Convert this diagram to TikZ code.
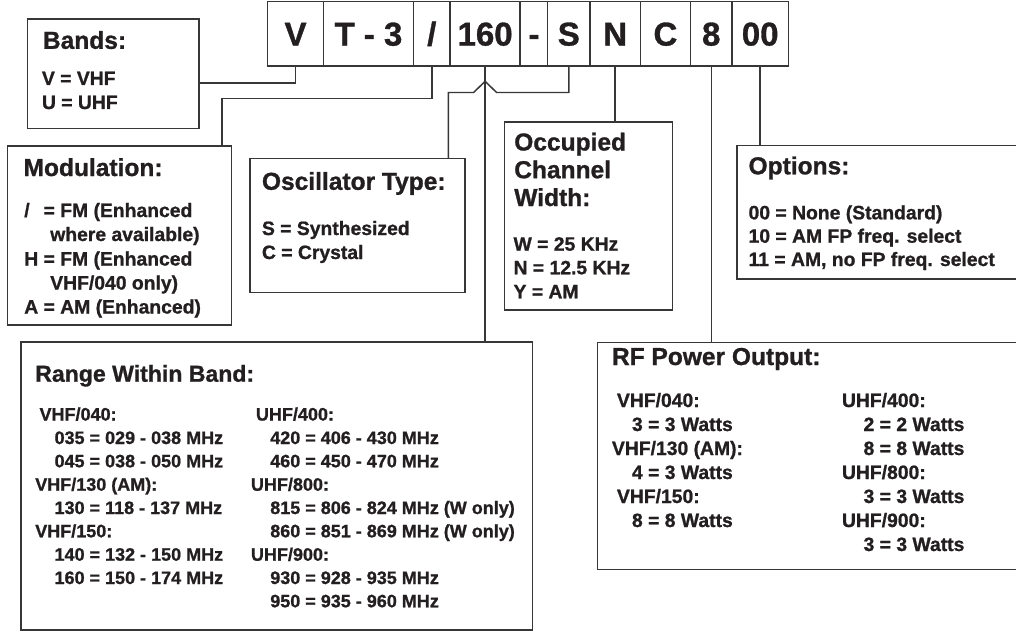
\documentclass[tikz,border=0pt]{standalone}
\usepackage{fontspec}
\setmainfont{Liberation Sans}[BoldFeatures={FakeBold=1}]
\definecolor{tc}{RGB}{35,31,32}
\definecolor{lc}{RGB}{55,55,55}
\begin{document}
\begin{tikzpicture}[x=0.75pt,y=-0.75pt,
  box/.style={draw=lc, line width=1.1pt, inner sep=0pt, outer sep=0pt, anchor=north west},
  cell/.style={draw=lc, line width=1.1pt, inner sep=0pt, outer sep=0pt, anchor=north west, minimum height=48.08pt, text height=17.7pt, text depth=0pt, font=\fontsize{24.75}{30}\selectfont\bfseries, text=tc},
  ttl/.style={anchor=base west, inner sep=0pt, font=\fontsize{18.4}{22}\selectfont\bfseries, text=tc},
  rttl/.style={anchor=base west, inner sep=0pt, font=\fontsize{17.3}{21}\selectfont\bfseries, text=tc},
  bdy/.style={anchor=base west, inner sep=0pt, font=\fontsize{14.5}{18}\selectfont\bfseries, text=tc},
  rbdy/.style={anchor=base west, inner sep=0pt, font=\fontsize{13.5}{17}\selectfont\bfseries, text=tc},
  conn/.style={draw=lc, line width=1.1pt}]
\useasboundingbox (0,0) rectangle (1016,631);
\clip (0,0) rectangle (1016,631);
\fill[white] (0,0) rectangle (1016,631);

% top code cells
\node[cell, minimum width=41.78pt] (cV) at (267.7,1.7) {V};
\node[cell, minimum width=67.58pt] (cT) at (cV.north east) {T - 3};
\node[cell, minimum width=27.38pt] (cSl) at (cT.north east) {/};
\node[cell, minimum width=52.65pt] (c160) at (cSl.north east) {160};
\node[cell, minimum width=20.63pt] (cD) at (c160.north east) {-};
\node[cell, minimum width=31.58pt] (cS) at (cD.north east) {S};
\node[cell, minimum width=37.95pt] (cN) at (cS.north east) {N};
\node[cell, minimum width=37.5pt] (cC) at (cN.north east) {C};
\node[cell, minimum width=31.2pt] (c8) at (cC.north east) {8};
\node[cell, minimum width=42.23pt] (c00) at (c8.north east) {00};

% boxes
\node[box, minimum width=128.8pt, minimum height=82pt] (bands) at (27.3,19) {};
\node[box, minimum width=168.3pt, minimum height=134.25pt] (modu) at (7.3,146) {};
\node[box, minimum width=161.25pt, minimum height=100.8pt] (osc) at (250,158.3) {};
\node[box, minimum width=126pt, minimum height=141pt] (occ) at (504.7,122) {};
\node[box, minimum width=217.5pt, minimum height=100pt] (opt) at (737,145.7) {};
\node[box, minimum width=383.5pt, minimum height=216pt] (range) at (21,342) {};
\node[box, minimum width=322.5pt, minimum height=170.5pt] (rf) at (597.3,342.3) {};

% connectors
\coordinate (jV) at (0,83);
\draw[conn] (cV.south) |- (bands.east |- jV);
\coordinate (jM) at (222,98.5);
\draw[conn] (cSl.south) |- (jM) -- (jM |- modu.north);
\draw[conn] (c160.south) -- (c160.south |- range.north);
\coordinate (apR) at (496.6,92.5);
\coordinate (apex) at (485.1,81.3);
\coordinate (apL) at (473.6,92.5);
\coordinate (jO) at (448.3,92.5);
\draw[conn] (cS.south) |- (apR) -- (apex) -- (apL) -- (jO) -- (jO |- osc.north);
\draw[conn] (cN.south) -- (cN.south |- occ.north);
\draw[conn] (c8.south) -- (c8.south |- rf.north);
\draw[conn] (c00.south) -- (c00.south |- opt.north);

% Bands
\node[ttl] (tb) at (42.7,48.8) {Bands:};
\node[bdy] (b1) at (41.7,85) {V = VHF};
\node[bdy] (b2) at (41.7,109) {U = UHF};

% Modulation
\node[ttl] (tm) at (23.3,176) {Modulation:};
\node[bdy] (m1) at (24,217) {\rlap{/}\phantom{H} = FM (Enhanced};
\node[bdy] (m2) at (50,241) {where available)};
\node[bdy] (m3) at (24,265.5) {H = FM (Enhanced};
\node[bdy] (m4) at (50,289.5) {VHF/040 only)};
\node[bdy] (m5) at (24,313.5) {A = AM (Enhanced)};

% Oscillator
\node[ttl] (to) at (261.7,189.8) {Oscillator Type:};
\node[bdy] (o1) at (261.7,235) {S = Synthesized};
\node[bdy] (o2) at (261.7,259) {C = Crystal};

% Occupied
\node[ttl] (tc1) at (514,150.5) {Occupied};
\node[ttl] (tc2) at (514,178.2) {Channel};
\node[ttl] (tc3) at (514,206) {Width:};
\node[bdy] (w1) at (513.3,250.7) {W = 25 KHz};
\node[bdy] (w2) at (513.3,274.3) {N = 12.5 KHz};
\node[bdy] (w3) at (513.3,298.3) {Y = AM};

% Options
\node[ttl] (tp) at (748.3,174.3) {Options:};
\node[bdy] (p1) at (748.3,219.3) {00 = None (Standard)};
\node[bdy] (p2) at (748.3,242.7) {10 = AM FP freq. select};
\node[bdy] (p3) at (748.3,266) {11 = AM, no FP freq. select};

% Range
\node[rttl] (tr) at (35,381.7) {Range Within Band:};
\node[rbdy] (r1) at (39.3,420.5) {VHF/040:};
\node[rbdy] (r2) at (54.3,444) {035 = 029 - 038 MHz};
\node[rbdy] (r3) at (54.3,467.3) {045 = 038 - 050 MHz};
\node[rbdy] (r4) at (35,490.7) {VHF/130 (AM):};
\node[rbdy] (r5) at (54.3,514) {130 = 118 - 137 MHz};
\node[rbdy] (r6) at (35,537.3) {VHF/150:};
\node[rbdy] (r7) at (54.3,560.7) {140 = 132 - 150 MHz};
\node[rbdy] (r8) at (54.3,584) {160 = 150 - 174 MHz};
\node[rbdy] (s1) at (255.7,420.5) {UHF/400:};
\node[rbdy] (s2) at (270,444) {420 = 406 - 430 MHz};
\node[rbdy] (s3) at (270,467.3) {460 = 450 - 470 MHz};
\node[rbdy] (s4) at (250.7,490.7) {UHF/800:};
\node[rbdy] (s5) at (270,514) {815 = 806 - 824 MHz (W only)};
\node[rbdy] (s6) at (270,537.3) {860 = 851 - 869 MHz (W only)};
\node[rbdy] (s7) at (250.7,560.7) {UHF/900:};
\node[rbdy] (s8) at (270,584) {930 = 928 - 935 MHz};
\node[rbdy] (s9) at (270,607.3) {950 = 935 - 960 MHz};

% RF power
\node[ttl] (tf) at (611.7,365) {RF Power Output:};
\node[bdy] (f1) at (616.7,407) {VHF/040:};
\node[bdy] (f2) at (631.7,431) {3 = 3 Watts};
\node[bdy] (f3) at (611.7,455) {VHF/130 (AM):};
\node[bdy] (f4) at (631.7,479) {4 = 3 Watts};
\node[bdy] (f5) at (616.7,503) {VHF/150:};
\node[bdy] (f6) at (631.7,527) {8 = 8 Watts};
\node[bdy] (g1) at (841.7,407) {UHF/400:};
\node[bdy] (g2) at (863.3,431) {2 = 2 Watts};
\node[bdy] (g3) at (863.3,455) {8 = 8 Watts};
\node[bdy] (g4) at (841.7,479) {UHF/800:};
\node[bdy] (g5) at (863.3,503) {3 = 3 Watts};
\node[bdy] (g6) at (841.7,527) {UHF/900:};
\node[bdy] (g7) at (863.3,551) {3 = 3 Watts};
\end{tikzpicture}
\end{document}
